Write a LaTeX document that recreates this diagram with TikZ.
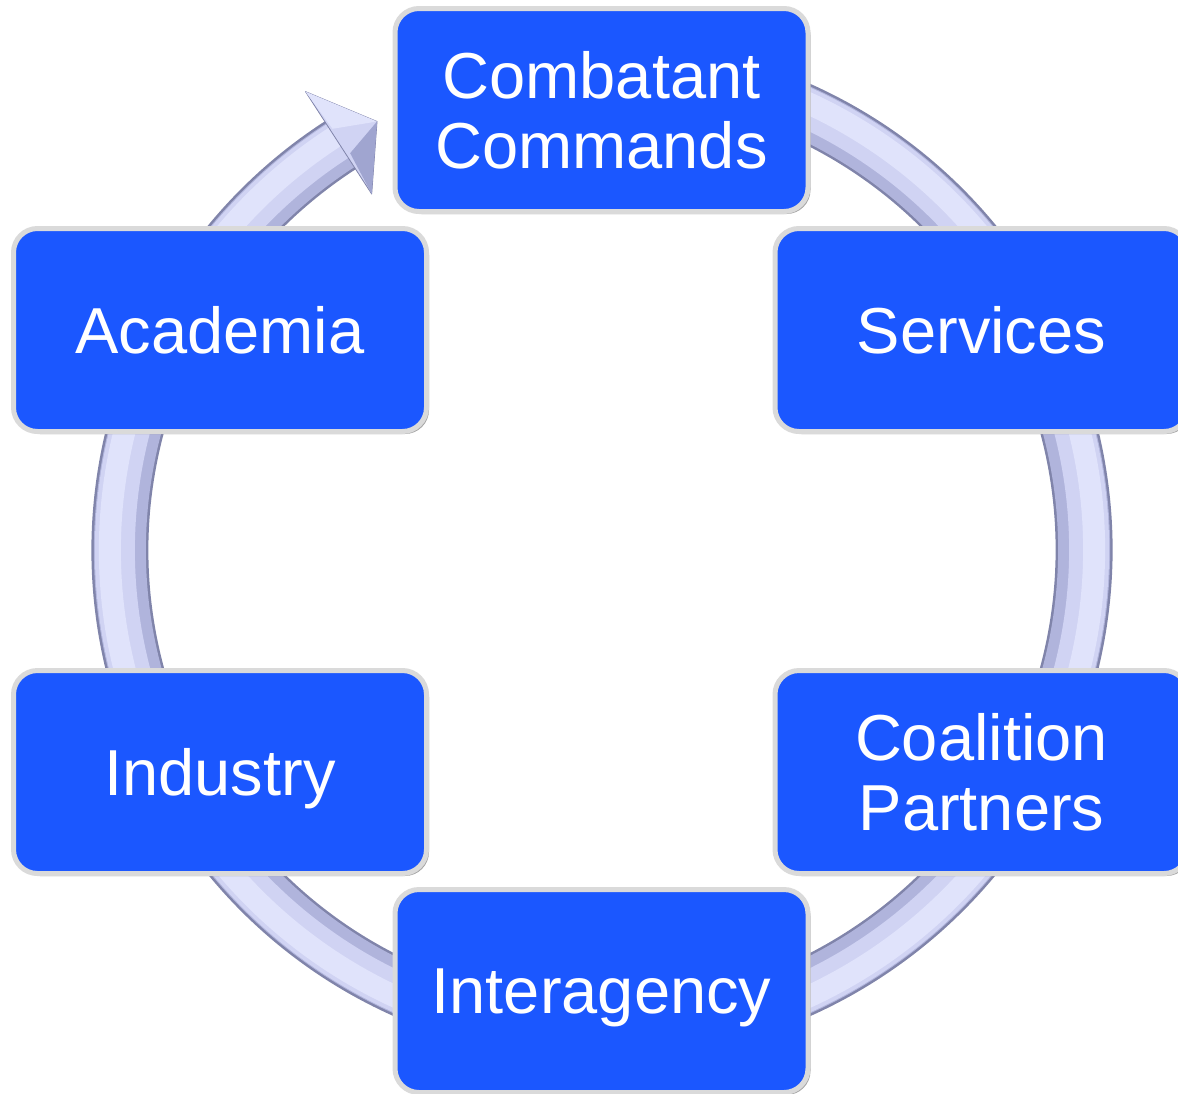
\documentclass[tikz,border=0pt]{standalone}
\usepackage{fontspec}
\setmainfont{Liberation Sans}
\usetikzlibrary{shadows}
\definecolor{boxblue}{RGB}{27,87,255}
\definecolor{boxrim}{RGB}{218,218,218}
\definecolor{ringdark}{RGB}{128,132,170}
\definecolor{ringshade}{RGB}{176,180,220}
\definecolor{ringmid}{RGB}{208,211,243}
\definecolor{ringlight}{RGB}{224,227,251}
\definecolor{headdark}{RGB}{160,165,208}
\tikzset{
  bluebox/.style={draw=boxrim, line width=5pt, fill=boxblue, rounded corners=24pt,
    minimum width=413pt, minimum height=203pt, inner sep=0pt, align=center,
    text=white, font=\fontsize{65}{70}\selectfont, text depth=0pt,
    drop shadow={shadow xshift=2.5pt, shadow yshift=-2.5pt, fill=black, opacity=0.35}},
  ringpart/.style={line cap=butt},
}
\begin{document}
\begin{tikzpicture}[x=1pt,y=-1pt]
\useasboundingbox (0,0) rectangle (1178,1093);
\clip (0,0) rectangle (1178,1093);
% ring arrow
\begin{scope}[shift={(602,550)}]
  \coordinate (ringstart) at (-75:482);
  \coordinate (headbase) at (237.1:482);
  \draw[ringpart, line width=57pt, ringdark] (ringstart) arc[start angle=-75, end angle=237.1, radius=482];
  \draw[ringpart, line width=52pt, ringshade] (-75:482) arc[start angle=-75, end angle=237.1, radius=482];
  \draw[ringpart, line width=40pt, ringmid] (-75:487) arc[start angle=-75, end angle=237.1, radius=487];
  \draw[ringpart, line width=22pt, ringlight] (-75:492) arc[start angle=-75, end angle=237.1, radius=492];
  \coordinate (barbA) at (237.1:546);
  \coordinate (tip) at (242.3:484);
  \coordinate (barbB) at (237.1:424);
  \fill[ringmid, draw=ringdark, line width=0.8pt, line join=round] (barbA) -- (tip) -- (barbB) -- cycle;
  \fill[headdark] (tip) -- (barbB) -- (237.6:470) -- cycle;
  \fill[ringlight] (barbA) -- (tip) -- (237.4:500) -- cycle;
\end{scope}
% boxes
\node[bluebox] (cc) at (601.5,110) {Combatant\\Commands};
\node[bluebox] (ac) at (220,330) {Academia};
\node[bluebox] (sv) at (981.5,330) {Services};
\node[bluebox] (in) at (220,772) {Industry};
\node[bluebox] (cp) at (981.5,772) {Coalition\\Partners};
\node[bluebox] (ia) at (601.5,991) {Interagency};
\end{tikzpicture}
\end{document}
